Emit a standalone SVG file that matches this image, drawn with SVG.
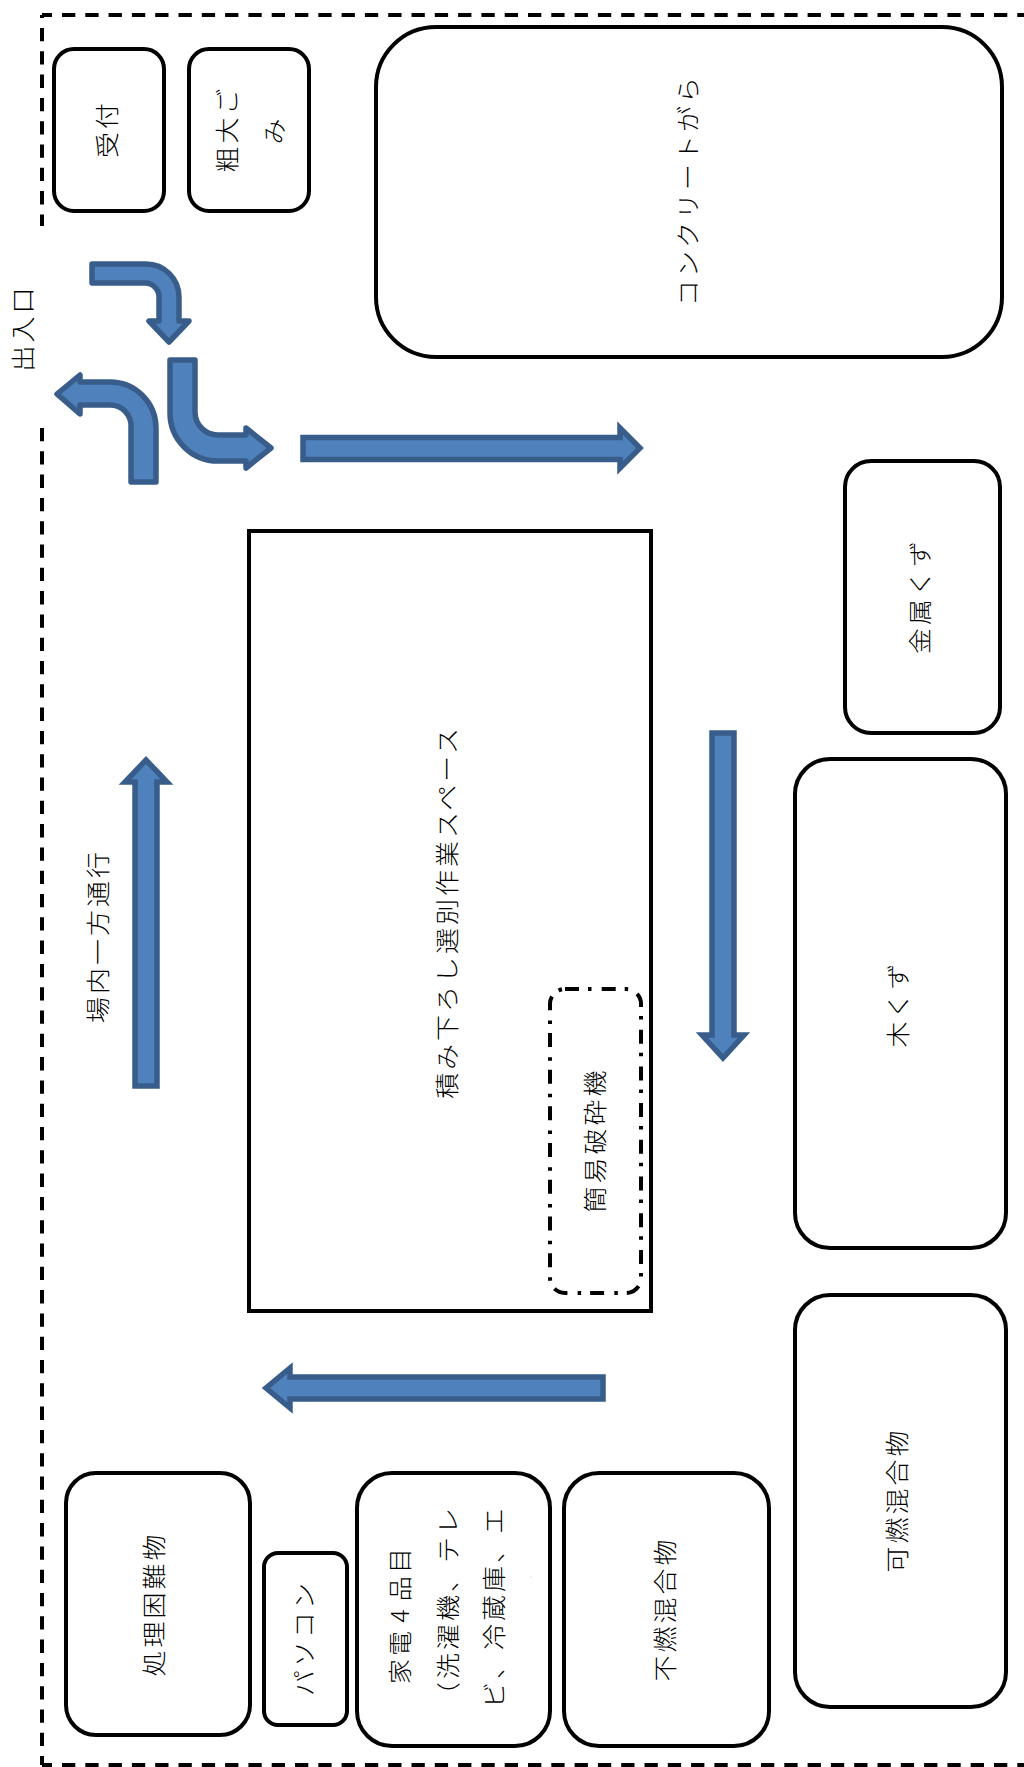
<svg xmlns="http://www.w3.org/2000/svg" width="1024" height="1767" viewBox="0 0 1024 1767">
<style>
.n{fill:#fff;stroke:#000;stroke-width:4}
.a{fill:#4F81BD;stroke:#385D8A;stroke-width:5.5;stroke-linejoin:round}
.m{fill:#4F81BD;stroke:#385D8A;stroke-width:5.5;stroke-linejoin:miter}
.b{fill:none;stroke:#000;stroke-width:4;stroke-dasharray:13.3 10}
text{font-family:"Noto Sans CJK JP","Noto Sans",sans-serif;font-weight:300;font-size:24px;letter-spacing:2.85px;fill:#000;text-anchor:middle;dominant-baseline:central}
.s{text-anchor:start}
</style>
<rect width="1024" height="1767" fill="#fff"/>
<g id="boundary">
<path class="b" d="M42 15V226" stroke-dashoffset="10.3"/>
<path class="b" d="M42 15H1024" stroke-dashoffset="3.3"/>
<path class="b" d="M42 428V1765"/>
<path class="b" d="M42 1765H1024" stroke-dashoffset="3.3"/>
</g>
<g id="connectors">
<path class="a" d="M92 264H146A33 33 0 0 1 179 297V321H189L169 342L149 321H159V297A14 14 0 0 0 145 283H92Z"/>
<path class="a" d="M131 482V428A21 21 0 0 0 110 405H80V414L57 394L80 375V382H110A46 46 0 0 1 156 428V482Z"/>
<path class="a" d="M170 360H195V412A23 23 0 0 0 218 435H246V428L271 448L246 468V461H218A48 48 0 0 1 170 413Z"/>
<path class="m" d="M303 437.500H620V428L640 448L620 468V459.500H303Z"/>
<path class="m" d="M712 733H734V1035H744L723 1058L702 1035H712Z"/>
<path class="m" d="M603 1377V1399H290V1408L266 1388L290 1368V1377Z"/>
<path class="m" d="M135 1086V782H125L146 760L167 782H157V1086Z"/>
</g>
<g id="n-uketsuke"><rect class="n" x="54" y="49" width="110" height="162" rx="20"/><text transform="translate(105,129) rotate(-90) scale(1.08,1)">受付</text></g>
<g id="n-sodai"><rect class="n" x="189" y="49" width="120" height="162" rx="20"/><text transform="translate(225,129) rotate(-90) scale(1.08,1)">粗大ご</text><text transform="translate(272,130) rotate(-90) scale(1.08,1)">み</text></g>
<g id="n-concrete"><rect class="n" x="376" y="27" width="626" height="330" rx="60"/><text transform="translate(686,190) rotate(-90) scale(1.08,1)">コンクリートがら</text></g>
<g id="n-iriguchi"><text transform="translate(21,328) rotate(-90) scale(1.08,1)">出入口</text></g>
<g id="n-oneway"><text transform="translate(96,936) rotate(-90) scale(1.08,1)">場内一方通行</text></g>
<g id="n-space"><rect class="n" x="249" y="531" width="402" height="780"/><text transform="translate(445,912) rotate(-90) scale(1.08,1)">積み下ろし選別作業スペース</text></g>
<g id="n-crusher"><rect class="n" x="550" y="989" width="91" height="304" rx="15" stroke-dasharray="14 9 3.500 10.200"/><text transform="translate(593,1140) rotate(-90) scale(1.08,1)">簡易破砕機</text></g>
<g id="n-metal"><rect class="n" x="845" y="461" width="155" height="272" rx="26"/><text transform="translate(918,596) rotate(-90) scale(1.08,1)">金属くず</text></g>
<g id="n-wood"><rect class="n" x="795" y="759" width="211" height="489" rx="35"/><text transform="translate(896,1004) rotate(-90) scale(1.08,1)">木くず</text></g>
<g id="n-combustible"><rect class="n" x="795" y="1295" width="211" height="412" rx="35"/><text transform="translate(895,1500) rotate(-90) scale(1.08,1)">可燃混合物</text></g>
<g id="n-noncombustible"><rect class="n" x="564" y="1473" width="205" height="273" rx="35"/><text transform="translate(663,1609) rotate(-90) scale(1.08,1)">不燃混合物</text></g>
<g id="n-difficult"><rect class="n" x="66" y="1473" width="184" height="262" rx="30"/><text transform="translate(152,1604) rotate(-90) scale(1.08,1)">処理困難物</text></g>
<g id="n-pc"><rect class="n" x="264" y="1553" width="83" height="172" rx="14"/><text transform="translate(302,1638) rotate(-90) scale(1.08,1)">パソコン</text></g>
<g id="n-appliance"><rect class="n" x="357" y="1473" width="193" height="273" rx="35"/>
<text class="s" style="word-spacing:-3px" transform="translate(399,1684) rotate(-90) scale(1.04,1)">家電 4 品目</text>
<text class="s" transform="translate(446,1708) rotate(-90) scale(1.08,1)">（洗濯機、テレ</text>
<text class="s" transform="translate(492,1708) rotate(-90) scale(1.08,1)">ビ、冷蔵庫、エ</text>
<text transform="translate(528,1577) rotate(-90)" style="font-size:6px;letter-spacing:0">.</text></g>
</svg>
